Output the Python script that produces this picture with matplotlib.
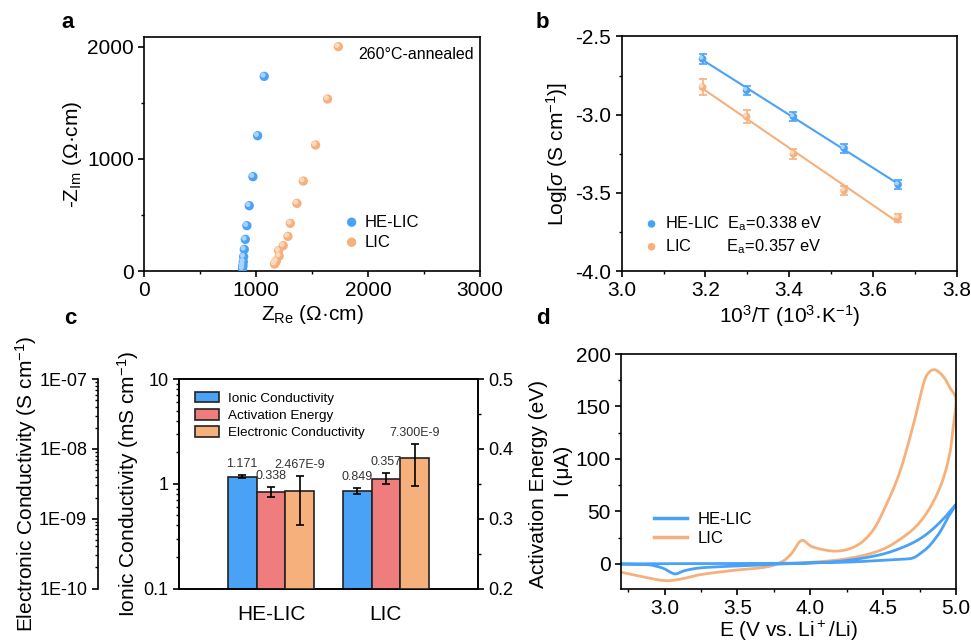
import numpy as np
import matplotlib
matplotlib.use("Agg")
import matplotlib.pyplot as plt
from matplotlib.ticker import MultipleLocator, LogLocator, NullFormatter, FixedLocator, FuncFormatter
from matplotlib.transforms import ScaledTranslation
from matplotlib.patches import Patch
from matplotlib.lines import Line2D

plt.rcParams["font.family"] = ["Liberation Sans", "DejaVu Sans"]
plt.rcParams["mathtext.fontset"] = "custom"
plt.rcParams["mathtext.rm"] = "Liberation Sans"
plt.rcParams["mathtext.it"] = "Liberation Sans:italic"
plt.rcParams["mathtext.bf"] = "Liberation Sans:bold"
plt.rcParams["axes.unicode_minus"] = False
plt.rcParams["axes.linewidth"] = 1.2
plt.rcParams["xtick.major.width"] = 1.2
plt.rcParams["ytick.major.width"] = 1.2
plt.rcParams["xtick.minor.width"] = 1.0
plt.rcParams["ytick.minor.width"] = 1.0
plt.rcParams["xtick.major.size"] = 4
plt.rcParams["ytick.major.size"] = 4
plt.rcParams["xtick.minor.size"] = 2.5
plt.rcParams["ytick.minor.size"] = 2.5

BLUE = "#4aa2f7"
BLUE_HI = "#a9d3fc"
ORANGE = "#f6b07c"
ORANGE_HI = "#fbd9bd"
RED = "#f07d7d"

# (a) Nyquist plots, ohm*cm
he_zre = [878, 880, 882, 885, 888, 894, 903, 917, 938, 971, 1013, 1072]
he_zim = [20, 38, 53, 83, 128, 193, 282, 404, 582, 841, 1206, 1735]
lic_zre = [1165, 1171, 1180, 1206, 1200, 1242, 1284, 1305, 1364, 1421, 1531, 1638, 1734]
lic_zim = [62, 75, 89, 134, 181, 226, 309, 425, 603, 802, 1123, 1533, 2000]

# (b) Arrhenius plot
inv_t = [3.193, 3.298, 3.410, 3.531, 3.660]
he_log = [-2.643, -2.844, -3.012, -3.215, -3.447]
he_err = [0.03, 0.03, 0.03, 0.03, 0.03]
lic_log = [-2.824, -3.012, -3.251, -3.485, -3.659]
lic_err = [0.05, 0.04, 0.03, 0.03, 0.025]

# (c) summary bars
samples = ["HE-LIC", "LIC"]
ionic = [1.171, 0.849]          # mS/cm
ionic_err = [0.04, 0.055]
ea = [0.338, 0.357]             # eV
ea_err = [0.007, 0.008]
elec = [2.467e-9, 7.300e-9]     # S/cm
elec_err = [1.65e-9, 4.35e-9]
ionic_txt = ["1.171", "0.849"]
ea_txt = ["0.338", "0.357"]
elec_txt = ["2.467E-9", "7.300E-9"]

# (d) CV curves, uA
he_e = [2.70, 3.00, 3.38, 3.80, 4.02, 4.25, 4.48, 4.62, 4.70, 4.753, 4.82, 4.89, 4.947, 5.00,
        4.936, 4.844, 4.753, 4.638, 4.478, 4.249, 4.02, 3.80, 3.69, 3.46, 3.25, 3.14, 3.07,
        3.00, 2.94, 2.88, 2.70]
he_i = [0.0, 0.1, 0.3, 0.5, 1.0, 1.6, 3.2, 4.3, 5.4, 9.6, 17.5, 30.3, 44.6, 56.5,
        46.2, 33.5, 23.9, 15.9, 8.6, 3.2, 0.9, 0.0, -1.0, -2.2, -3.8, -6.4, -9.6,
        -4.8, -2.2, -0.8, -0.3]
lic_e = [2.70, 2.84, 3.00, 3.115, 3.25, 3.46, 3.69, 3.80, 3.87, 3.94, 4.02, 4.18, 4.32, 4.43,
         4.52, 4.615, 4.707, 4.775, 4.81, 4.856, 4.913, 4.96, 5.00,
         4.98, 4.96, 4.913, 4.844, 4.753, 4.638, 4.478, 4.249, 4.02, 3.85]
lic_i = [-8.0, -12.1, -16.0, -14.4, -10.2, -6.4, -3.2, 1.6, 9.6, 22.3, 15.9, 12.1, 17.5, 31.9,
         55.8, 87.7, 132.3, 170.6, 181.8, 185.0, 178.6, 167.5, 156.3,
         129.0, 106.8, 81.3, 59.0, 39.8, 25.5, 12.7, 4.8, 1.6, 0.3]


def smooth(x, y, n=12):
    # Catmull-Rom through the read-off points so the traces are not jagged
    x = np.asarray(x, float)
    y = np.asarray(y, float)
    px = np.concatenate([[x[0]], x, [x[-1]]])
    py = np.concatenate([[y[0]], y, [y[-1]]])
    t = np.linspace(0, 1, n, endpoint=False)
    xs, ys = [], []
    for k in range(1, len(px) - 2):
        for arr, out in ((px, xs), (py, ys)):
            p0, p1, p2, p3 = arr[k - 1], arr[k], arr[k + 1], arr[k + 2]
            out.extend(0.5 * (2 * p1 + (-p0 + p2) * t + (2 * p0 - 5 * p1 + 4 * p2 - p3) * t ** 2
                              + (-p0 + 3 * p1 - 3 * p2 + p3) * t ** 3))
    xs.append(x[-1])
    ys.append(y[-1])
    return np.array(xs), np.array(ys)


def sphere(ax, x, y, color, light, s, label=None):
    h = ax.scatter(x, y, s=s, color=color, edgecolors="none", label=label, zorder=3)
    shift = ScaledTranslation(-0.9 / 72, 0.9 / 72, ax.figure.dpi_scale_trans)
    ax.scatter(x, y, s=s * 0.3, color=light, edgecolors="none",
               transform=ax.transData + shift, zorder=4)
    return h


fig = plt.figure(figsize=(9.71, 6.41), dpi=100)

# ---- a: Nyquist
ax_a = fig.add_axes([0.1486, 0.5772, 0.3457, 0.3646])
h1 = sphere(ax_a, he_zre, he_zim, BLUE, BLUE_HI, 45, "HE-LIC")
h2 = sphere(ax_a, lic_zre, lic_zim, ORANGE, ORANGE_HI, 45, "LIC")
ax_a.set_xlim(0, 3000)
ax_a.set_ylim(0, 2083)
ax_a.xaxis.set_major_locator(MultipleLocator(1000))
ax_a.xaxis.set_minor_locator(MultipleLocator(500))
ax_a.yaxis.set_major_locator(MultipleLocator(1000))
ax_a.yaxis.set_minor_locator(MultipleLocator(500))
ax_a.tick_params(labelsize=15)
ax_a.set_xlabel(r"Z$_\mathrm{Re}$ (Ω·cm)", fontsize=15, labelpad=2)
ax_a.set_ylabel(r"-Z$_\mathrm{Im}$ (Ω·cm)", fontsize=15, labelpad=2)
ax_a.text(0.636, 0.927, "260°C-annealed", transform=ax_a.transAxes, fontsize=11.5, va="center")
ax_a.legend(handles=[h1, h2], loc="upper left", bbox_to_anchor=(0.568, 0.27), frameon=False,
            fontsize=12, handletextpad=0.2, labelspacing=0.3, borderaxespad=0, handlelength=1.2)

# ---- b: Arrhenius
ax_b = fig.add_axes([0.6403, 0.5772, 0.3450, 0.3659])
for yv, ye, c, hi, lab in ((he_log, he_err, BLUE, BLUE_HI, r"HE-LIC  E$_\mathrm{a}$=0.338 eV"),
                           (lic_log, lic_err, ORANGE, ORANGE_HI, r"LIC        E$_\mathrm{a}$=0.357 eV")):
    k, b0 = np.polyfit(inv_t, yv, 1)
    ax_b.plot([inv_t[0], inv_t[-1]], [k * inv_t[0] + b0, k * inv_t[-1] + b0], color=c, lw=1.5, zorder=2)
    ax_b.errorbar(inv_t, yv, yerr=ye, fmt="none", ecolor=c, elinewidth=1.2, capsize=3, capthick=1.2, zorder=2)
    sphere(ax_b, inv_t, yv, c, hi, 30, lab)
ax_b.set_xlim(3.0, 3.8)
ax_b.set_ylim(-4.0, -2.5)
ax_b.xaxis.set_major_locator(MultipleLocator(0.2))
ax_b.xaxis.set_minor_locator(MultipleLocator(0.1))
ax_b.yaxis.set_major_locator(MultipleLocator(0.5))
ax_b.yaxis.set_minor_locator(MultipleLocator(0.25))
ax_b.tick_params(labelsize=15)
ax_b.set_xlabel(r"10$^3$/T (10$^3$·K$^{-1}$)", fontsize=15, labelpad=2)
ax_b.set_ylabel(r"Log[$\sigma$ (S cm$^{-1}$)]", fontsize=15, labelpad=4)
ax_b.legend(loc="upper left", bbox_to_anchor=(0.04, 0.27), frameon=False, fontsize=11.8,
            handletextpad=0.2, labelspacing=0.25, borderaxespad=0, handlelength=1.2)

# ---- c: ionic / activation energy / electronic bars
x = np.arange(len(samples))
w = 0.25
ax_c = fig.add_axes([0.1843, 0.0819, 0.3079, 0.3268])
ax_c.set_yscale("log")
ax_c.set_ylim(0.1, 10)
ax_c.set_xlim(-0.8, 1.8)
ax_c.bar(x - w, np.array(ionic) - 0.1, w, bottom=0.1, color=BLUE, edgecolor="#222222", lw=1.2)
ax_c.errorbar(x - w, ionic, yerr=ionic_err, fmt="none", ecolor="black", elinewidth=1.2, capsize=3, capthick=1.2)
for xi, v, e, t in zip(x - w, ionic, ionic_err, ionic_txt):
    ax_c.annotate(t, (xi, v + e), xytext=(0, 8), textcoords="offset points", ha="center",
                  va="center", fontsize=9, color="#333333")
ax_c.set_xticks(x)
ax_c.set_xticklabels(samples)
ax_c.tick_params(axis="x", length=0, labelsize=15, pad=12)
ax_c.tick_params(axis="y", which="both", labelsize=13)
ax_c.yaxis.set_major_formatter(FuncFormatter(lambda v, p: f"{v:g}"))
ax_c.set_ylabel(r"Ionic Conductivity (mS cm$^{-1}$)", fontsize=15, labelpad=2)

ax_c2 = ax_c.twinx()
ax_c2.set_ylim(0.2, 0.5)
ax_c2.bar(x, ea, w, color=RED, edgecolor="#222222", lw=1.2)
ax_c2.errorbar(x, ea, yerr=ea_err, fmt="none", ecolor="black", elinewidth=1.2, capsize=3, capthick=1.2)
for xi, v, e, t in zip(x, ea, ea_err, ea_txt):
    ax_c2.annotate(t, (xi, v + e), xytext=(0, 8), textcoords="offset points", ha="center",
                   va="center", fontsize=9, color="#333333")
ax_c2.yaxis.set_major_locator(MultipleLocator(0.1))
ax_c2.yaxis.set_minor_locator(MultipleLocator(0.05))
ax_c2.tick_params(axis="y", which="both", labelsize=13)
ax_c2.set_ylabel("Activation Energy (eV)", fontsize=15, labelpad=11)

ax_c3 = ax_c.twinx()
ax_c3.set_yscale("log")
ax_c3.set_ylim(1e-10, 1e-7)
ax_c3.bar(x + w, np.array(elec) - 1e-10, w, bottom=1e-10, color=ORANGE, edgecolor="#222222", lw=1.2)
ax_c3.errorbar(x + w, elec, yerr=elec_err, fmt="none", ecolor="black", elinewidth=1.2, capsize=3, capthick=1.2)
for xi, v, e, t in zip(x + w, elec, elec_err, elec_txt):
    ax_c3.annotate(t, (xi, v + e), xytext=(0, 8), textcoords="offset points", ha="center",
                   va="center", fontsize=9, color="#333333")
for side in ("top", "bottom", "right"):
    ax_c3.spines[side].set_visible(False)
ax_c3.spines["left"].set_visible(True)
ax_c3.spines["left"].set_position(("axes", -0.272))
ax_c3.yaxis.set_ticks_position("left")
ax_c3.yaxis.set_label_position("left")
ax_c3.yaxis.set_major_locator(FixedLocator([1e-10, 1e-9, 1e-8, 1e-7]))
ax_c3.yaxis.set_major_formatter(FuncFormatter(lambda v, p: f"1E-{round(-np.log10(v)):02d}"))
ax_c3.yaxis.set_minor_locator(LogLocator(base=10, subs=np.arange(2, 10)))
ax_c3.yaxis.set_minor_formatter(NullFormatter())
ax_c3.tick_params(axis="y", which="both", labelsize=13)
ax_c3.set_ylabel(r"Electronic Conductivity (S cm$^{-1}$)", fontsize=15, labelpad=0)
ax_c3.legend(handles=[Patch(facecolor=BLUE, edgecolor="#222222", lw=1.2, label="Ionic Conductivity"),
                      Patch(facecolor=RED, edgecolor="#222222", lw=1.2, label="Activation Energy"),
                      Patch(facecolor=ORANGE, edgecolor="#222222", lw=1.2, label="Electronic Conductivity")],
             loc="upper left", bbox_to_anchor=(0.035, 0.965), frameon=False, fontsize=9.7,
             handlelength=1.8, handleheight=0.85, handletextpad=0.7, labelspacing=0.3, borderaxespad=0)

# ---- d: CV
ax_d = fig.add_axes([0.6395, 0.0811, 0.3450, 0.3666])
ex, iy = smooth(lic_e, lic_i)
ax_d.plot(ex, iy, color=ORANGE, lw=2)
ex, iy = smooth(he_e, he_i)
ax_d.plot(ex, iy, color=BLUE, lw=2)
ax_d.set_xlim(2.7, 5.0)
ax_d.set_ylim(-24, 200)
ax_d.xaxis.set_major_locator(MultipleLocator(0.5))
ax_d.xaxis.set_minor_locator(MultipleLocator(0.25))
ax_d.yaxis.set_major_locator(MultipleLocator(50))
ax_d.yaxis.set_minor_locator(MultipleLocator(25))
ax_d.tick_params(labelsize=15)
ax_d.set_xlabel(r"E (V vs. Li$^+$/Li)", fontsize=15, labelpad=0)
ax_d.set_ylabel("I (μA)", fontsize=15, labelpad=2)
ax_d.legend(handles=[Line2D([], [], color=BLUE, lw=2.5, label="HE-LIC"),
                     Line2D([], [], color=ORANGE, lw=2.5, label="LIC")],
            loc="upper left", bbox_to_anchor=(0.079, 0.356), frameon=False, fontsize=12,
            handlelength=2.0, handletextpad=0.6, labelspacing=0.25, borderaxespad=0)

# panel letters
for lx, ly, s in ((68, 22, "a"), (542, 22, "b"), (70, 318, "c"), (543, 318, "d")):
    fig.text(lx / 971, 1 - ly / 641, s, fontsize=16, fontweight="bold", ha="center", va="center")

fig.savefig("out.png", dpi=100)
